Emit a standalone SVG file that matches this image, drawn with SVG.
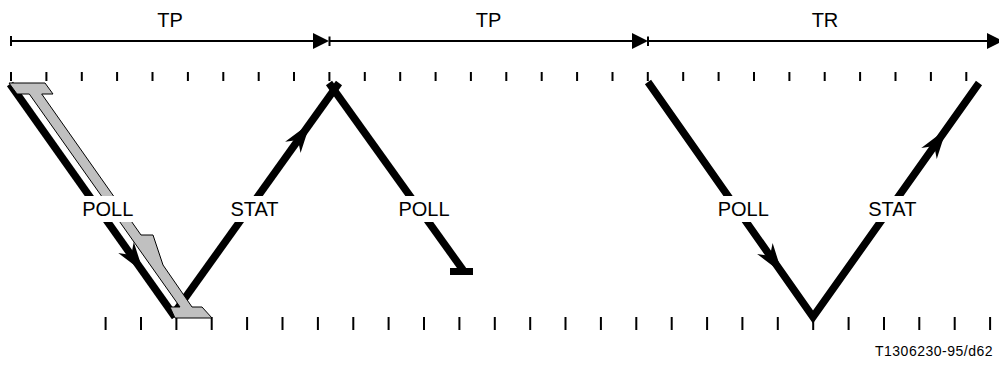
<svg xmlns="http://www.w3.org/2000/svg" width="999" height="365" viewBox="0 0 999 365">
<style>
  text { font-family: "Liberation Sans", Arial, sans-serif; fill: #000; }
  .lbl { font-size: 20px; text-anchor: middle; }
  .foot { font-size: 14px; letter-spacing: 0.5px; }
  .tick { stroke: #000; stroke-width: 2; fill: none; }
  .axis { stroke: #000; stroke-width: 2; fill: none; }
  .msg { stroke: #000; stroke-width: 7.5; fill: none; stroke-linecap: butt; stroke-linejoin: miter; stroke-miterlimit: 10; }
  .bg { fill: #fff; }
  .flag { fill: #c0c0c0; stroke: #000; stroke-width: 1; stroke-linejoin: miter; }
</style>
<defs>
  <path id="ah" d="M0,0 L-30,-9.5 L-21,0 L-30,9.5 Z" fill="#000"/>
  <path id="tri" d="M0,0 L-16,-8 L-16,8 Z" fill="#000"/>
</defs>
<rect x="0" y="0" width="999" height="365" fill="#fff"/>

<g id="timeline">
  <path class="axis" d="M11,41 H316 M329.5,41 H635 M648,41 H990 M11,36 V46 M329.5,36.5 V46 M648,36.5 V46"/>
  <use href="#tri" transform="translate(329,41)"/>
  <use href="#tri" transform="translate(648,41)"/>
  <use href="#tri" transform="translate(1003,41)"/>
  <text class="lbl" x="170" y="27">TP</text>
  <text class="lbl" x="488.5" y="27">TP</text>
  <text class="lbl" x="825" y="27">TR</text>
</g>

<g id="ticks">
  <path class="tick" d="M11,72 V81 M46.4,72 V81 M81.8,72 V81 M117.1,72 V81 M152.5,72 V81 M187.9,72 V81 M223.3,72 V81 M258.7,72 V81 M294,72 V81 M329.4,72 V81 M364.8,72 V81 M400.2,72 V81 M435.6,72 V81 M470.9,72 V81 M506.3,72 V81 M541.7,72 V81 M577.1,72 V81 M612.5,72 V81 M647.8,72 V81 M683.2,72 V81 M718.6,72 V81 M754,72 V81 M789.4,72 V81 M824.7,72 V81 M860.1,72 V81 M895.5,72 V81 M930.9,72 V81 M966.3,72 V81"/>
  <path class="tick" d="M105.6,317 V330 M141,317 V330 M176.4,317 V330 M211.7,317 V330 M247.1,317 V330 M282.5,317 V330 M317.9,317 V330 M353.3,317 V330 M388.6,317 V330 M424,317 V330 M459.4,317 V330 M494.8,317 V330 M530.2,317 V330 M565.5,317 V330 M600.9,317 V330 M636.3,317 V330 M671.7,317 V330 M707.1,317 V330 M742.4,317 V330 M777.8,317 V330 M813.2,317 V330 M848.6,317 V330 M884,317 V330 M919.3,317 V330 M954.7,317 V330 M990.1,317 V330"/>
</g>

<g id="connectors">
  <path id="poll1" class="msg" d="M10,84 L175,317"/>
  <use href="#ah" transform="translate(143.4,272) rotate(54.6)"/>
  <path id="stat1" class="msg" d="M175,312 L339,83"/>
  <use href="#ah" transform="translate(310.3,123) rotate(-54.4)"/>
  <path id="poll2" class="msg" d="M329,83 L463,270"/>
  <rect x="450" y="268" width="23" height="7" fill="#000"/>
  <path id="poll3-stat3" class="msg" d="M648,82 L813,317 L979,83"/>
  <use href="#ah" transform="translate(782.1,273) rotate(54.9)"/>
  <use href="#ah" transform="translate(946.4,129) rotate(-54.6)"/>
</g>

<g id="flag">
  <polygon class="flag" points="9,83 45,83 53,94 41.7,94 141,235 153,235 163,265 192,307 202,307 212,318 175,318 170,307 180,307 29.3,94 17,94"/>
</g>

<g id="labels">
  <rect class="bg" x="79" y="196" width="58" height="26"/>
  <text class="lbl" x="107.8" y="216">POLL</text>
  <rect class="bg" x="224" y="196" width="61" height="26"/>
  <text class="lbl" x="254.5" y="216">STAT</text>
  <rect class="bg" x="395" y="196" width="58" height="26"/>
  <text class="lbl" x="424" y="216">POLL</text>
  <rect class="bg" x="714" y="196" width="58" height="26"/>
  <text class="lbl" x="743.3" y="216">POLL</text>
  <rect class="bg" x="862" y="196" width="61" height="26"/>
  <text class="lbl" x="892.3" y="216">STAT</text>
  <text class="foot" x="875" y="355.5">T1306230-95/d62</text>
</g>
</svg>
